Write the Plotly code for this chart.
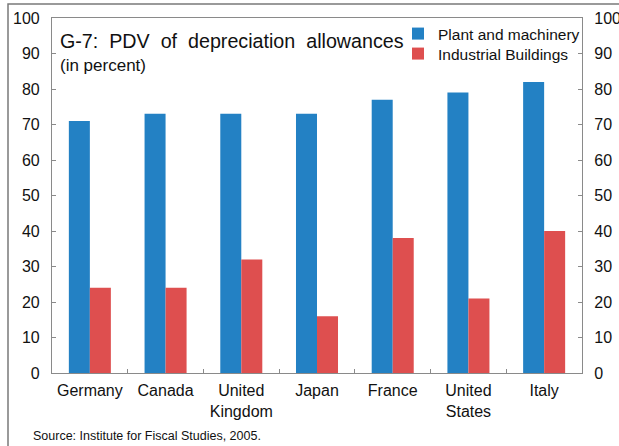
import plotly.graph_objects as go

countries = ["Germany", "Canada", "United<br>Kingdom", "Japan", "France",
             "United<br>States", "Italy"]
plant = [71, 73, 73, 73, 77, 79, 82]
buildings = [24, 24, 32, 16, 38, 21, 40]
y_ticks = [0, 10, 20, 30, 40, 50, 60, 70, 80, 90, 100]

BLUE = "#2381C4"
RED = "#DE4F4F"
AXIS = "#8a8a8a"
INK = "#111111"
FONT = "Liberation Sans, Arial, sans-serif"

# plot box in pixels: x 52..582, y 18..373
L, R, T, B = 52, 582, 18, 373
W, H = 619, 446


def px(x):
    return (x - L) / (R - L)


def py(y):
    return (B - y) / (B - T)


fig = go.Figure()
fig.add_bar(x=countries, y=plant, name="Plant and machinery", legend="legend",
            marker=dict(color=BLUE, line=dict(width=0)))
fig.add_bar(x=countries, y=buildings, name="Industrial Buildings", legend="legend2",
            marker=dict(color=RED, line=dict(width=0)))
# invisible trace just to carry the right-hand axis
fig.add_scatter(x=countries, y=plant, yaxis="y2", mode="markers",
                marker=dict(opacity=0), showlegend=False, hoverinfo="skip")

axis_common = dict(range=[0, 100], tickvals=y_ticks, showgrid=False,
                   zeroline=False, showline=True, linecolor=AXIS, linewidth=1.2,
                   ticks="inside", ticklen=4, tickcolor=AXIS, automargin=False,
                   tickfont=dict(family=FONT, size=16, color=INK),
                   ticklabelstandoff=8)

legend_common = dict(xanchor="left", yanchor="top", bgcolor="rgba(0,0,0,0)",
                     itemwidth=30, tracegroupgap=0,
                     font=dict(family=FONT, size=15.5, color=INK))

fig.update_layout(
    width=W, height=H,
    margin=dict(l=L, r=W - R, t=T, b=H - B),
    paper_bgcolor="white", plot_bgcolor="white",
    barmode="group", bargap=0.445, bargroupgap=0,
    font=dict(family=FONT, color=INK),
    xaxis=dict(showgrid=False, showline=True, linecolor=AXIS, linewidth=1.2,
               mirror=True, ticks="inside", ticklen=4, tickcolor=AXIS,
               tickson="boundaries", tickangle=0, automargin=False,
               ticklabelstandoff=3,
               tickfont=dict(family=FONT, size=16, color=INK)),
    yaxis=dict(**axis_common, side="left"),
    yaxis2=dict(**axis_common, side="right", overlaying="y"),
    legend=dict(x=px(398), y=py(17), **legend_common),
    legend2=dict(x=px(398), y=py(37), **legend_common),
    showlegend=True,
)

fig.add_annotation(text="G-7:  PDV  of  depreciation  allowances",
                   x=px(58), y=py(41), xref="paper", yref="paper",
                   xanchor="left", yanchor="middle", showarrow=False,
                   font=dict(family=FONT, size=19.7, color=INK))
fig.add_annotation(text="(in percent)",
                   x=px(58), y=py(65), xref="paper", yref="paper",
                   xanchor="left", yanchor="middle", showarrow=False,
                   font=dict(family=FONT, size=17, color=INK))
fig.add_annotation(text="Source: Institute for Fiscal Studies, 2005.",
                   x=px(31), y=py(436), xref="paper", yref="paper",
                   xanchor="left", yanchor="middle", showarrow=False,
                   font=dict(family=FONT, size=12.5, color=INK))

# outer frame of the exhibit (top and left edges)
fig.add_shape(type="path", xref="paper", yref="paper",
              path=f"M {px(8)} {py(470)} L {px(8)} {py(4)} L {px(640)} {py(4)}",
              line=dict(color="#7a7a7a", width=1.5))

# drop the browser's default 8px body margin so the figure sits at (0, 0)
fig.write_html("out.html", config={"displayModeBar": False},
               post_script="document.body.style.margin='0';"
                           "document.body.style.overflow='hidden';")
